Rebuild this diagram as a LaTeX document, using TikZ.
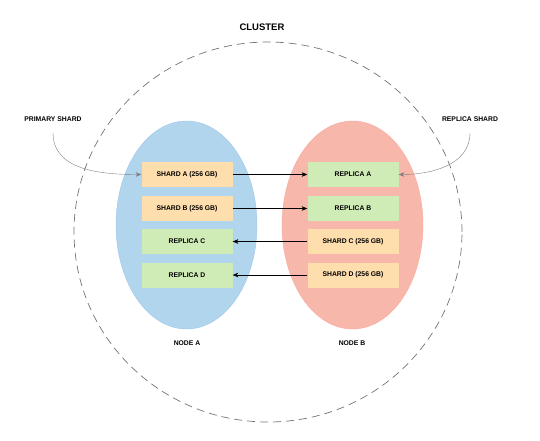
\documentclass[tikz,border=0pt]{standalone}
\usepackage{fontspec}
\setmainfont{Liberation Sans}
\usepackage{xcolor}
\usepackage{tikz}
\usetikzlibrary{arrows.meta, positioning, shapes.geometric}

\definecolor{nodeblue}{RGB}{176,213,236}
\definecolor{nodered}{RGB}{248,183,171}
\definecolor{shardfill}{RGB}{255,222,174}
\definecolor{replicafill}{RGB}{208,236,182}

\begin{document}
\begin{tikzpicture}[
  x=1pt, y=-1pt,
  font=\fontsize{6.8}{8}\selectfont\bfseries,
  server/.style={ellipse, minimum width=141, minimum height=208},
  shard/.style={rectangle, fill=shardfill, minimum width=91, minimum height=25, inner sep=1pt},
  replica/.style={rectangle, fill=replicafill, minimum width=91, minimum height=25, inner sep=1pt},
  copyarrow/.style={-{Stealth[length=2mm, width=1.6mm]}, thin, black},
  pointer/.style={-{Stealth[length=2mm, width=1.6mm]}, thin, gray}
]
  \useasboundingbox (0,0) rectangle (540,440);

  % cluster boundary
  \node[ellipse, draw=gray!90!black, line width=0.7pt, dash pattern=on 8pt off 5pt, minimum width=388, minimum height=380] (cluster) at (268,232) {};
  \node[font=\fontsize{9.5}{10}\selectfont\bfseries] (clusterlbl) at (262,27) {CLUSTER};

  % the two nodes
  \node[server, fill=nodeblue, draw=nodeblue!92!blue] (nodea) at (186.5,225) {};
  \node[server, fill=nodered, draw=nodered!92!red] (nodeb) at (352.5,225) {};
  \node (nodealbl) at (187,343) {NODE A};
  \node (nodeblbl) at (352,343) {NODE B};

  % left column
  \node[shard] (sa) at (187,174.5) {SHARD A (256 GB)};
  \node[shard] (sb) at (187,208.5) {SHARD B (256 GB)};
  \node[replica] (rc) at (187,241.5) {REPLICA C};
  \node[replica] (rd) at (187,275) {REPLICA D};

  % right column
  \node[replica] (ra) at (353,174.5) {REPLICA A};
  \node[replica] (rb) at (353,208.5) {REPLICA B};
  \node[shard] (sc) at (353,241.5) {SHARD C (256 GB)};
  \node[shard] (sd) at (353,275) {SHARD D (256 GB)};

  \draw[copyarrow] (sa) -- (ra);
  \draw[copyarrow] (sb) -- (rb);
  \draw[copyarrow] (sc) -- (rc);
  \draw[copyarrow] (sd) -- (rd);

  % legend labels
  \node (primarylbl) at (53,119) {PRIMARY SHARD};
  \node (replicalbl) at (470,119) {REPLICA SHARD};
  \draw[pointer] ([yshift=-8pt]primarylbl.south) to[out=-90, in=180] (sa.west);
  \draw[pointer] ([yshift=-8pt]replicalbl.south) to[out=-90, in=0] (ra.east);
\end{tikzpicture}
\end{document}
